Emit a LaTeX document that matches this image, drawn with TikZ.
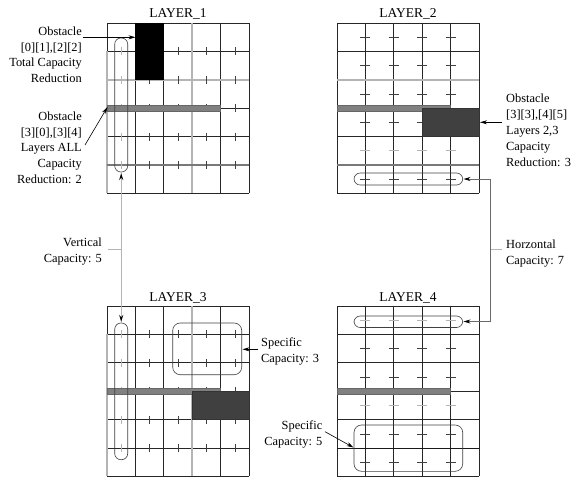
\documentclass[tikz,border=0pt]{standalone}
\usepackage{fontspec}
\setmainfont{Liberation Serif}
\usetikzlibrary{arrows.meta}
\definecolor{lgray}{HTML}{B4B4B4}
\definecolor{mgray}{HTML}{787878}
\definecolor{bargray}{HTML}{808080}
\definecolor{obsdark}{HTML}{404040}
\definecolor{hgray}{HTML}{6A6A6A}
\newcommand{\cellsz}{28.4}
\tikzset{
  gridline/.style={line width=.7pt, black!85},
  capline/.style={line width=1.5pt, lgray},
  capdark/.style={line width=1.5pt, mgray},
  tickline/.style={line width=.45pt, black!75},
  ticklight/.style={line width=1.2pt, lgray},
  barobs/.style={fill=bargray, draw=black!60, line width=.4pt},
  oval/.style={draw=black!75, line width=.6pt, rounded corners=6.2pt},
  region/.style={draw=black!75, line width=.6pt, rounded corners=7.5pt},
  arr/.style={line width=.6pt, -{Stealth[length=7pt,width=4pt]}},
  txt/.style={inner sep=0pt, font=\fontsize{12.4}{15.8}\selectfont},
  title/.style={inner sep=0pt, font=\fontsize{13.5}{16}\selectfont},
}
\begin{document}
\begin{tikzpicture}[x=1pt, y=-1pt]
\useasboundingbox (0,0) rectangle (581,487);
% layer 1
\begin{scope}[shift={(107,23)}]
  \foreach \i in {0,...,5} \draw[gridline] (\i*\cellsz,0) -- (\i*\cellsz,6*\cellsz);
  \foreach \j in {0,...,6} \draw[gridline] (0,\j*\cellsz) -- (5*\cellsz,\j*\cellsz);
  \draw[capline] (3*\cellsz,0) -- (3*\cellsz,6*\cellsz);
  \draw[capline] (0,2*\cellsz) -- (5*\cellsz,2*\cellsz);
  \draw[capline] (0,\cellsz) -- (0,6*\cellsz);
  \draw[capdark] (0,5*\cellsz) -- (5*\cellsz,5*\cellsz);
  \foreach \i in {1,...,4} \foreach \j in {1,...,5}
    \draw[tickline] ({(\i+.5)*\cellsz},\j*\cellsz-4) -- ++(0,8);
  \foreach \j in {1,...,5}
    \draw[ticklight] ({.5*\cellsz},\j*\cellsz-4) -- ++(0,8);
  \fill[black] (\cellsz,0) rectangle (2*\cellsz,2*\cellsz);
  \filldraw[barobs] (0,3*\cellsz-3) rectangle (4*\cellsz,3*\cellsz+3);
  \draw[oval] ({.5*\cellsz-6.5},15) rectangle ({.5*\cellsz+6.5},149);
\end{scope}
% layer 2
\begin{scope}[shift={(337,23)}]
  \foreach \i in {0,...,5} \draw[gridline] (\i*\cellsz,0) -- (\i*\cellsz,6*\cellsz);
  \foreach \j in {0,...,6} \draw[gridline] (0,\j*\cellsz) -- (5*\cellsz,\j*\cellsz);
  \draw[capline] (0,2*\cellsz) -- (5*\cellsz,2*\cellsz);
  \draw[capdark] (0,5*\cellsz) -- (5*\cellsz,5*\cellsz);
  \foreach \i in {1,...,4} \foreach \j in {0,1,2,3,5}
    \draw[tickline] (\i*\cellsz-5,{(\j+.5)*\cellsz}) -- ++(10,0);
  \foreach \i in {1,...,4}
    \draw[ticklight] (\i*\cellsz-5,{4.5*\cellsz}) -- ++(10,0);
  \filldraw[barobs] (0,3*\cellsz-3) rectangle (4*\cellsz,3*\cellsz+3);
  \filldraw[fill=obsdark, draw=black!80, line width=.4pt] (3*\cellsz,3*\cellsz) rectangle (5*\cellsz,4*\cellsz);
  \draw[oval] (17,150) rectangle (125.7,162);
\end{scope}
% layer 3
\begin{scope}[shift={(107,306)}]
  \foreach \i in {0,...,5} \draw[gridline] (\i*\cellsz,0) -- (\i*\cellsz,6*\cellsz);
  \foreach \j in {0,...,6} \draw[gridline] (0,\j*\cellsz) -- (5*\cellsz,\j*\cellsz);
  \draw[capline] (3*\cellsz,0) -- (3*\cellsz,6*\cellsz);
  \draw[capline] (0,\cellsz) -- (0,6*\cellsz);
  \foreach \i in {1,...,4} \foreach \j in {1,...,5}
    \draw[tickline] ({(\i+.5)*\cellsz},\j*\cellsz-4) -- ++(0,8);
  \foreach \j in {1,...,5}
    \draw[ticklight] ({.5*\cellsz},\j*\cellsz-4) -- ++(0,8);
  \filldraw[barobs] (0,3*\cellsz-3) rectangle (4*\cellsz,3*\cellsz+3);
  \filldraw[fill=obsdark, draw=black!80, line width=.4pt] (3*\cellsz,3*\cellsz) rectangle (5*\cellsz,4*\cellsz);
  \draw[oval] ({.5*\cellsz-6.5},17) rectangle ({.5*\cellsz+6.5},153.7);
  \draw[region] (65.7,17) rectangle (134.7,68.7);
\end{scope}
% layer 4
\begin{scope}[shift={(337,306)}]
  \foreach \i in {0,...,5} \draw[gridline] (\i*\cellsz,0) -- (\i*\cellsz,6*\cellsz);
  \foreach \j in {0,...,6} \draw[gridline] (0,\j*\cellsz) -- (5*\cellsz,\j*\cellsz);
  \draw[line width=1pt, black!90] (0,5*\cellsz) -- (5*\cellsz,5*\cellsz);
  \foreach \i in {1,...,4} \foreach \j in {1,2,4,5}
    \draw[tickline] (\i*\cellsz-5,{(\j+.5)*\cellsz}) -- ++(10,0);
  \foreach \i in {1,...,4} \foreach \j in {0,3}
    \draw[ticklight] (\i*\cellsz-5,{(\j+.5)*\cellsz}) -- ++(10,0);
  \filldraw[barobs] (0,3*\cellsz-3) rectangle (4*\cellsz,3*\cellsz+3);
  \draw[oval] (17,10) rectangle (125.7,21.5);
  \draw[region] (17,119) rectangle (125.7,165.3);
\end{scope}

% titles
\node[title, anchor=base] (t1) at (178,17.5) {LAYER\_1};
\node[title, anchor=base] (t2) at (408,17.5) {LAYER\_2};
\node[title, anchor=base] (t3) at (178,301) {LAYER\_3};
\node[title, anchor=base] (t4) at (408,301) {LAYER\_4};

% labels
\node[txt, anchor=north east, align=right] (obsA) at (82,26.5)
  {Obstacle\\{}[0][1],[2][2]\\Total Capacity\\Reduction};
\node[txt, anchor=north east, align=right] (obsB) at (82,111.5)
  {Obstacle\\{}[3][0],[3][4]\\Layers ALL\\Capacity\\Reduction: 2};
\node[txt, anchor=north west, align=left] (obsC) at (506,94)
  {Obstacle\\{}[3][3],[4][5]\\Layers 2,3\\Capacity\\Reduction: 3};
\node[txt, anchor=north east, align=right] (vcap) at (102,238)
  {Vertical\\Capacity: 5};
\node[txt, anchor=north west, align=left] (hcap) at (506,240)
  {Horzontal\\Capacity: 7};
\node[txt, anchor=north west, align=left] (spec3) at (261,337.5)
  {Specific\\Capacity: 3};
\node[txt, anchor=north east, align=right] (spec5) at (322.5,421)
  {Specific\\Capacity: 5};

% connector ends
\coordinate (obsAs) at (83,37.3);
\coordinate (blkA) at (135.5,37.3);
\coordinate (obsBs) at (85,145);
\coordinate (barB) at (107.5,107);
\coordinate (obsCs) at (502,122.3);
\coordinate (rectC) at (480,122.3);
\coordinate (spec3s) at (258,349.3);
\coordinate (regA) at (242.5,349.3);
\coordinate (spec5s) at (325,431.7);
\coordinate (regB) at (353.5,447.5);
\coordinate (ovalA) at (121.2,173);
\coordinate (ovalC) at (121.2,322);
\coordinate (vbend) at (121.2,249.3);
\coordinate (ovalB) at (463.5,179);
\coordinate (ovalD) at (463.5,321.5);
\coordinate (hbend) at (490.5,249.3);

\draw[arr] (obsAs) -- (blkA);
\draw[arr] (obsBs) -- (barB);
\draw[arr] (obsCs) -- (rectC);
\draw[arr] (spec3s) -- (regA);
\draw[arr] (spec5s) -- (regB);
\draw[line width=1.2pt, lgray, {Stealth[black,length=7pt,width=4pt]}-{Stealth[black,length=7pt,width=4pt]}] (ovalA) -- (ovalC);
\draw[line width=1.2pt, lgray, shorten >=6pt] (vbend) -- (vbend -| vcap.east);
\draw[line width=.7pt, hgray, {Stealth[black,length=7pt,width=4pt]}-{Stealth[black,length=7pt,width=4pt]}] (ovalB) -| (hbend) |- (ovalD);
\draw[line width=1.2pt, lgray, shorten >=4pt] (hbend) -- (hbend -| hcap.west);
\end{tikzpicture}
\end{document}
